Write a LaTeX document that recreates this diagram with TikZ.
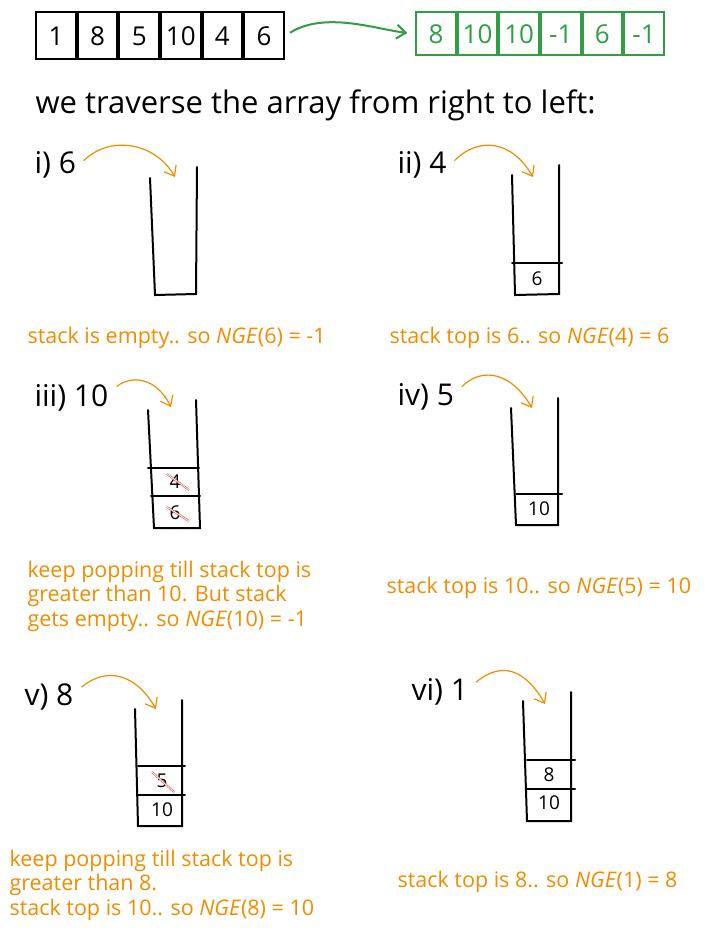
\documentclass[tikz,border=0pt]{standalone}
\usepackage{fontspec}
\setmainfont{Open Sans}
\usepackage{xcolor}
\usetikzlibrary{arrows.meta,positioning}
\definecolor{ngreen}{HTML}{2F9E44}
\definecolor{norange}{HTML}{F08C00}
\definecolor{nred}{HTML}{E03131}

\begin{document}
\begin{tikzpicture}[x=1pt,y=-1pt,
	cell/.style={draw,line width=2pt,minimum width=39.6pt,minimum height=47pt,inner sep=0pt,font=\fontsize{26}{26}\selectfont},
	ans/.style={cell,draw=ngreen,text=ngreen,minimum height=43pt},
	steplabel/.style={anchor=west,font=\fontsize{30}{30}\selectfont},
	note/.style={anchor=west,text=norange,align=left,font=\fontsize{21.5}{24.5}\selectfont},
	hop/.style={-{Straight Barb[length=9pt,width=14pt]},norange,line width=1.2pt,shorten <=6pt},
	flow/.style={-{Straight Barb[length=9pt,width=14pt]},ngreen,line width=2pt,shorten <=6pt,shorten >=8pt},
	wall/.style={line width=2pt,line cap=round},
	item/.style={font=\fontsize{19}{19}\selectfont},
	gone/.style={nred,line width=0.5pt,double=white,double distance=0.8pt}]
	\useasboundingbox (0,0) rectangle (714,934);

	% input array
	\node [cell] (a1) at (56,36) {1};
	\node [cell] (a2) [right=0pt of a1] {8};
	\node [cell] (a3) [right=0pt of a2] {5};
	\node [cell] (a4) [right=0pt of a3] {10};
	\node [cell] (a5) [right=0pt of a4] {4};
	\node [cell] (a6) [right=0pt of a5] {6};

	% answer array
	\node [ans] (g1) at (436,34) {8};
	\node [ans] (g2) [right=0pt of g1] {10};
	\node [ans] (g3) [right=0pt of g2] {10};
	\node [ans] (g4) [right=0pt of g3] {-1};
	\node [ans] (g5) [right=0pt of g4] {6};
	\node [ans] (g6) [right=0pt of g5] {-1};
	\draw [flow] (a6.east) .. controls +(40,-25) and +(-40,-5) .. (g1.west);

	\node [anchor=west,font=\fontsize{31}{31}\selectfont] (title) at (32,105) {we traverse the array from right to left:};

	% i) 6
	\node [steplabel] (l1) at (31,165) {i) 6};
	\coordinate (top1) at (175,177);
	\draw [hop] (l1.east) .. controls +(30,-30) and +(-20,-35) .. (top1);
	\draw [wall] (150,178) -- (155,295) -- (196,294) -- (197,167);
	\node [note] (n1) at (24,338) {stack is empty.. so \textit{NGE}(6) = -1};

	% ii) 4
	\node [steplabel] (l2) at (394,165) {ii) 4};
	\coordinate (top2) at (533,177);
	\draw [hop] (l2.east) .. controls +(30,-30) and +(-20,-35) .. (top2);
	\draw [wall] (512,175) -- (515,295) -- (559,294) -- (559,165);
	\draw [wall] (512,263) -- (562,263);
	\node [item] (s2a) at (537,279) {6};
	\node [note] (n2) at (386,338) {stack top is 6.. so \textit{NGE}(4) = 6};

	% iii) 10
	\node [steplabel] (l3) at (31,398) {iii) 10};
	\coordinate (top3) at (171,407);
	\draw [hop] ([yshift=8pt]l3.east) .. controls +(20,-15) and +(-15,-30) .. (top3);
	\draw [wall] (148,410) -- (154,528) -- (200,528) -- (196,400);
	\draw [wall] (148,468) -- (199,468);
	\draw [wall] (151,496) -- (200,496);
	\node [item] (s3a) at (175,482) {4};
	\node [item] (s3b) at (175,513) {6};
	\draw [gone] ([xshift=-8pt,yshift=8pt]s3a.center) -- ([xshift=14pt,yshift=-8pt]s3a.center);
	\draw [gone] ([xshift=-8pt,yshift=6pt]s3b.center) -- ([xshift=14pt,yshift=-8pt]s3b.center);
	\node [note] (n3) at (24,596) {keep popping till stack top is\\greater than 10. But stack\\gets empty.. so \textit{NGE}(10) = -1};

	% iv) 5
	\node [steplabel] (l4) at (394,397) {iv) 5};
	\coordinate (top4) at (532,408);
	\draw [hop] ([yshift=6pt]l4.east) .. controls +(25,-25) and +(-20,-35) .. (top4);
	\draw [wall] (511,408) -- (516,525) -- (558,525) -- (558,398);
	\draw [wall] (516,494) -- (562,494);
	\node [item] (s4a) at (539,509) {10};
	\node [note] (n4) at (383,588) {stack top is 10.. so \textit{NGE}(5) = 10};

	% v) 8
	\node [steplabel] (l5) at (21,697) {v) 8};
	\coordinate (top5) at (156,709);
	\draw [hop] ([yshift=6pt]l5.east) .. controls +(30,-25) and +(-20,-35) .. (top5);
	\draw [wall] (135,709) -- (138,826) -- (182,826) -- (182,700);
	\draw [wall] (138,766) -- (185,766);
	\draw [wall] (138,795) -- (185,795);
	\node [item] (s5a) at (162,781) {5};
	\node [item] (s5b) at (162,810) {10};
	\draw [gone] ([xshift=-10pt,yshift=9pt]s5a.center) -- ([xshift=12pt,yshift=-11pt]s5a.center);
	\node [note] (n5) at (6,885) {keep popping till stack top is\\greater than 8.\\stack top is 10.. so \textit{NGE}(8) = 10};

	% vi) 1
	\node [steplabel] (l6) at (408,692) {vi) 1};
	\coordinate (top6) at (545,704);
	\draw [hop] ([yshift=6pt]l6.east) .. controls +(30,-25) and +(-20,-35) .. (top6);
	\draw [wall] (523,701) -- (527,821) -- (571,821) -- (571,692);
	\draw [wall] (527,760) -- (575,760);
	\draw [wall] (527,789) -- (575,789);
	\node [item] (s6a) at (549,775) {8};
	\node [item] (s6b) at (549,803) {10};
	\node [note] (n6) at (394,882) {stack top is 8.. so \textit{NGE}(1) = 8};
\end{tikzpicture}
\end{document}
